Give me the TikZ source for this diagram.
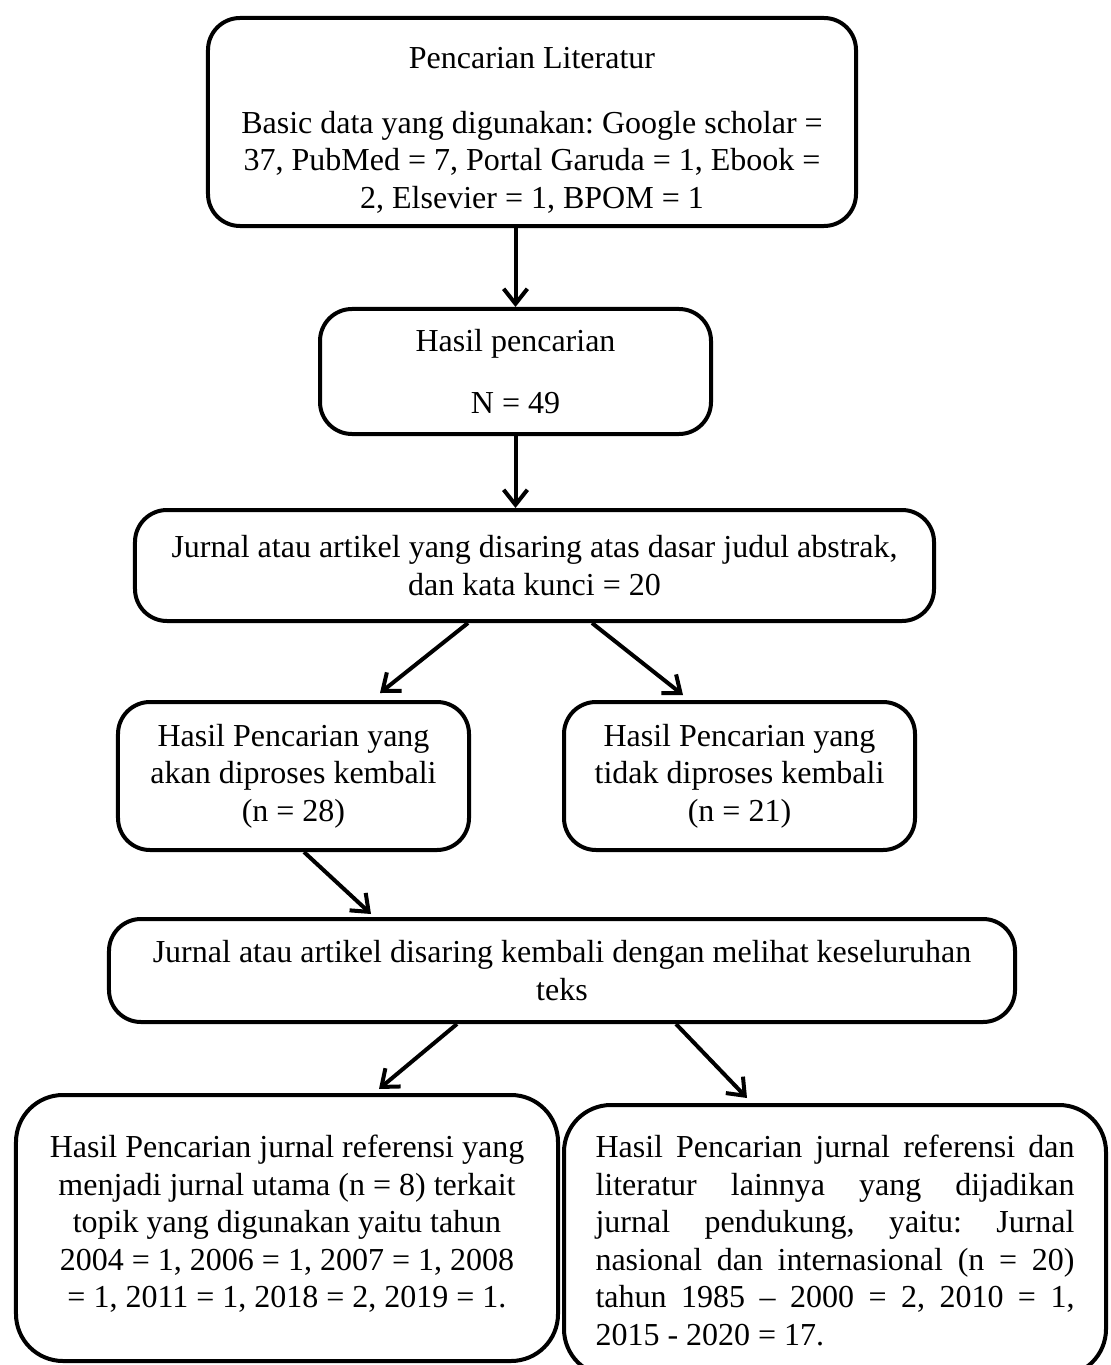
\documentclass[tikz,border=0pt]{standalone}
\usepackage{fontspec}
\setmainfont{Liberation Serif}
\usetikzlibrary{arrows.meta}
\newcommand{\jline}[1]{\makebox[191.6pt][s]{#1}}

\begin{document}
\begin{tikzpicture}[x=0.4pt,y=-0.4pt,
    box/.style={draw,line width=1.6pt,rounded corners=12.8pt,align=center,inner sep=0pt,font=\fontsize{12.8}{15}\selectfont\frenchspacing},
    big/.style={box,rounded corners=18.8pt},
    arr/.style={line width=1.6pt,-{Straight Barb[length=6pt,width=9.5pt]}}]
    \useasboundingbox (0,0) rectangle (1111,1365);
    \clip (0,0) rectangle (1111,1365);
    \node[box,minimum width=259.2pt,minimum height=83.2pt,text height=71pt] (lit) at (532,122) {Pencarian Literatur\\[11pt]Basic data yang digunakan: Google scholar =\\37, PubMed = 7, Portal Garuda = 1, Ebook =\\2, Elsevier = 1, BPOM = 1};
    \node[box,minimum width=156.4pt,minimum height=50pt] (hasil) at (515.5,371.5) {Hasil pencarian\\[10pt]N = 49};
    \node[box,minimum width=319.6pt,minimum height=44.4pt] (saring) at (534.5,565.5) {Jurnal atau artikel yang disaring atas dasar judul abstrak,\\dan kata kunci = 20};
    \node[box,minimum width=140.4pt,minimum height=59.2pt] (proses) at (293.5,776) {Hasil Pencarian yang\\akan diproses kembali\\(n = 28)};
    \node[box,minimum width=140.4pt,minimum height=59.2pt] (tidak) at (739.5,776) {Hasil Pencarian yang\\tidak diproses kembali\\(n = 21)};
    \node[box,minimum width=362.4pt,minimum height=41.2pt] (kembali) at (562,970.5) {Jurnal atau artikel disaring kembali dengan melihat keseluruhan\\teks};
    \node[big,minimum width=216.8pt,minimum height=106.4pt,text depth=5.4pt] (utama) at (287,1228) {Hasil Pencarian jurnal referensi yang\\menjadi jurnal utama (n = 8) terkait\\topik yang digunakan yaitu tahun\\2004 = 1, 2006 = 1, 2007 = 1, 2008\\= 1, 2011 = 1, 2018 = 2, 2019 = 1.};
    \node[big,align=left,minimum width=216.8pt,minimum height=108.4pt] (dukung) at (835,1240.5) {\jline{Hasil Pencarian jurnal referensi dan}\\\jline{literatur lainnya yang dijadikan}\\\jline{jurnal pendukung, yaitu: Jurnal}\\\jline{nasional dan internasional (n = 20)}\\\jline{tahun 1985 -- 2000 = 2, 2010 = 1,}\\2015 - 2020 = 17.};
    \draw[arr] (lit.south -| hasil.north) -- (hasil.north);
    \draw[arr] (hasil.south) -- (saring.north -| hasil.south);
    \draw[arr] ([xshift=-26.6pt]saring.south) -- ([xshift=34.6pt,yshift=2.8pt]proses.north);
    \draw[arr] ([xshift=23pt]saring.south) -- ([xshift=-22.6pt,yshift=2pt]tidak.north);
    \draw[arr] ([xshift=4.2pt]proses.south) -- ([xshift=-76.4pt,yshift=1.2pt]kembali.north);
    \draw[arr] ([xshift=-42pt]kembali.south) -- ([xshift=36.8pt,yshift=1.6pt]utama.north);
    \draw[arr] ([xshift=45.6pt]kembali.south) -- ([xshift=-35.2pt,yshift=2pt]dukung.north);
\end{tikzpicture}
\end{document}
